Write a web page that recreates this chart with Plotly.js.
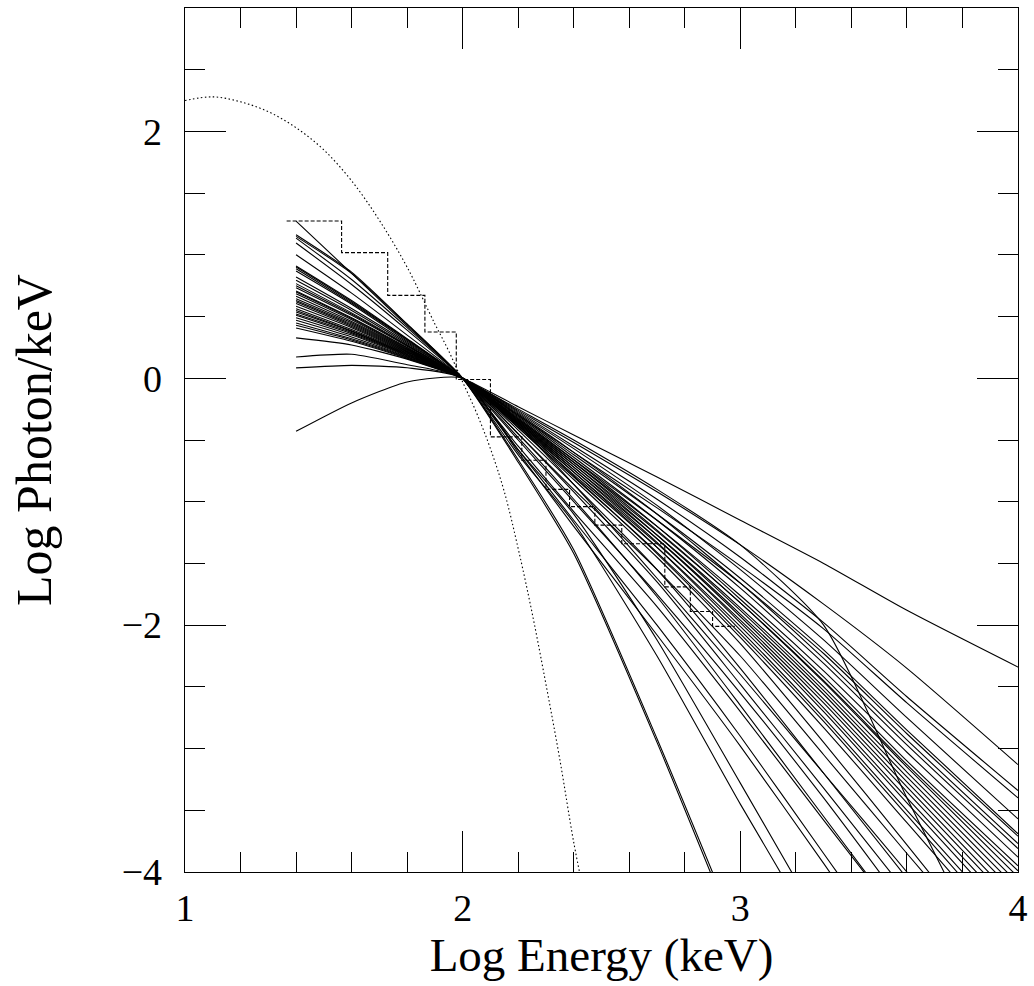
<!DOCTYPE html>
<html>
<head>
<meta charset="utf-8">
<script src="https://cdn.plot.ly/plotly-3.0.1.min.js"></script>
<style>html,body{margin:0;padding:0;background:#fff;}#chart{width:1034px;height:986px;}</style>
</head>
<body>
<div id="chart"></div>
<script>
// Shared Log Energy grid for the model spectra
const logE = [1.4, 1.6, 1.8, 2.0, 2.2, 2.4, 2.7, 3.0, 3.3, 3.6, 4.0];

// Log Photon/keV of each model spectrum on the logE grid (null = off the plot)
const spectra = [
  [1.274, 0.85, 0.425, 0, -0.62, -1.17, -2.25, -3.45, -4.60, null, null],
  [1.163, 0.86, 0.44, 0, -0.68, -1.42, -2.95, -4.60, null, null, null],
  [1.150, 0.85, 0.435, 0, -0.66, -1.39, -2.92, -4.55, null, null, null],
  [1.136, 0.80, 0.41, 0, -0.58, -1.10, -2.12, -3.28, -4.45, null, null],
  [1.096, 0.76, 0.39, 0, -0.55, -1.08, -1.85, -2.70, -3.58, -4.45, null],
  [1.001, 0.69, 0.35, 0, -0.50, -1.00, -1.75, -2.55, -3.40, -4.30, null],
  [0.910, 0.63, 0.32, 0, -0.48, -0.98, -1.77, -2.65, -3.55, -4.45, null],
  [0.901, 0.62, 0.315, 0, -0.42, -0.86, -1.55, -2.35, -3.20, -4.05, null],
  [0.888, 0.61, 0.31, 0, -0.38, -0.79, -1.42, -2.10, -2.83, -3.60, -4.63],
  [0.869, 0.60, 0.30, 0, -0.45, -0.92, -1.65, -2.48, -3.32, -4.17, null],
  [0.820, 0.565, 0.29, 0, -0.39, -0.78, -1.37, -2.01, -2.70, -3.44, -4.42],
  [0.794, 0.55, 0.28, 0, -0.45, -0.90, -1.55, -2.25, -3.05, -3.85, -4.90],
  [0.767, 0.53, 0.27, 0, -0.35, -0.72, -1.30, -1.93, -2.60, -3.31, -4.25],
  [0.750, 0.52, 0.265, 0, -0.32, -0.66, -1.20, -1.79, -2.42, -3.10, -3.95],
  [0.734, 0.51, 0.26, 0, -0.40, -0.82, -1.45, -2.15, -2.95, -3.78, -4.90],
  [0.707, 0.49, 0.25, 0, -0.36, -0.72, -1.27, -1.86, -2.50, -3.19, -4.09],
  [0.700, 0.485, 0.245, 0, -0.29, -0.60, -1.10, -1.66, -2.27, -2.93, -3.77],
  [0.685, 0.475, 0.24, 0, -0.36, -0.74, -1.33, -1.98, -2.67, -3.40, -4.36],
  [0.664, 0.46, 0.235, 0, -0.25, -0.50, -0.90, -1.35, -2.00, -3.40, -5.20],
  [0.645, 0.45, 0.23, 0, -0.40, -0.80, -1.41, -2.07, -2.78, -3.54, -4.56],
  [0.631, 0.44, 0.225, 0, -0.28, -0.57, -1.03, -1.55, -2.12, -2.75, -3.57],
  [0.620, 0.43, 0.22, 0, -0.37, -0.74, -1.30, -1.91, -2.56, -3.27, -4.19],
  [0.605, 0.42, 0.215, 0, -0.34, -0.68, -1.20, -1.76, -2.37, -3.03, -3.88],
  [0.583, 0.41, 0.21, 0, -0.37, -0.76, -1.37, -2.04, -2.75, -3.50, -4.50],
  [0.564, 0.395, 0.205, 0, -0.33, -0.68, -1.23, -1.82, -2.46, -3.15, -4.04],
  [0.550, 0.385, 0.20, 0, -0.33, -0.66, -1.15, -1.66, -2.23, -2.88, -3.71],
  [0.537, 0.38, 0.195, 0, -0.38, -0.76, -1.34, -1.96, -2.63, -3.35, -4.30],
  [0.520, 0.37, 0.19, 0, -0.30, -0.60, -1.05, -1.52, -2.03, -2.63, -3.40],
  [0.510, 0.36, 0.185, 0, -0.34, -0.70, -1.27, -1.88, -2.53, -3.23, -4.14],
  [0.491, 0.35, 0.18, 0, -0.35, -0.70, -1.24, -1.82, -2.45, -3.13, -3.99],
  [0.470, 0.335, 0.175, 0, -0.31, -0.64, -1.15, -1.70, -2.31, -2.97, -3.81],
  [0.448, 0.32, 0.17, 0, -0.30, -0.62, -1.10, -1.62, -2.20, -2.85, -3.69],
  [0.429, 0.31, 0.165, 0, -0.27, -0.55, -0.98, -1.45, -1.98, -2.58, -3.34],
  [0.408, 0.30, 0.16, 0, -0.26, -0.52, -0.92, -1.35, -1.83, -2.35, -3.13],
  [0.327, 0.27, 0.155, 0, -0.23, -0.46, -0.80, -1.15, -1.50, -1.88, -2.34],
  [0.173, 0.195, 0.11, 0, -0.58, -1.15, -2.00, -2.90, -3.85, -4.80, null],
  [0.084, 0.105, 0.085, 0, -0.60, -1.20, -2.08, -2.98, -3.93, -4.90, null],
  [-0.43, -0.20, -0.03, 0, -0.38, -0.86, -1.62, -2.40, -3.20, -4.00, -5.10]
];

// Dashed count histogram: bin edges and levels
const binEdges = [1.366, 1.564, 1.73, 1.864, 1.977, 2.10, 2.213, 2.30, 2.385, 2.476, 2.573, 2.728, 2.82, 2.90, 2.98];
const binLevels = [1.274, 1.018, 0.672, 0.375, -0.01, -0.475, -0.664, -0.90, -1.04, -1.19, -1.34, -1.69, -1.89, -2.01];

// Dotted thermal curve
const bbLogE = [1.0, 1.1, 1.2, 1.3, 1.4, 1.5, 1.6, 1.7, 1.8, 1.9, 1.95, 2.0, 2.05, 2.1, 2.15, 2.2, 2.25, 2.3, 2.35, 2.4, 2.43];
const bbLogN = [2.25, 2.28, 2.24, 2.16, 2.03, 1.85, 1.60, 1.28, 0.90, 0.44, 0.22, -0.03, -0.28, -0.57, -0.92, -1.38, -1.90, -2.48, -3.09, -3.76, -4.10];

const xTickVals = [1, 2, 3, 4];
const yTickVals = [-4, -2, 0, 2];

const FONT = 'Liberation Serif, Times New Roman, serif';

const traces = spectra.map(row => ({
  x: logE, y: row, type: 'scatter', mode: 'lines',
  line: {color: '#000', width: 1.1, shape: 'spline', smoothing: 0.6},
  hoverinfo: 'skip', showlegend: false
}));

traces.push({
  x: binEdges, y: binLevels.concat([binLevels[binLevels.length - 1]]),
  type: 'scatter', mode: 'lines',
  line: {color: '#000', width: 1.1, shape: 'hv', dash: '4px,2px'},
  hoverinfo: 'skip', showlegend: false
});

traces.push({
  x: bbLogE, y: bbLogN, type: 'scatter', mode: 'lines',
  line: {color: '#000', width: 1.1, shape: 'spline', dash: '1.5px,2.5px'},
  hoverinfo: 'skip', showlegend: false
});

const axisCommon = {
  showline: true, mirror: 'allticks', linecolor: '#000', linewidth: 1.3,
  ticks: 'inside', ticklen: 41, tickwidth: 1, tickcolor: '#000',
  showgrid: false, zeroline: false,
  tickfont: {family: FONT, size: 38, color: '#000'},
  automargin: false
};

const layout = {
  width: 1034, height: 986,
  margin: {l: 185, r: 16, t: 8, b: 114},
  paper_bgcolor: '#fff', plot_bgcolor: '#fff',
  showlegend: false,
  xaxis: Object.assign({}, axisCommon, {
    range: [1, 4], tickmode: 'array', tickvals: xTickVals, ticktext: xTickVals.map(String),
    minor: {dtick: 0.2, tick0: 1, ticks: 'inside', ticklen: 20, tickwidth: 1, tickcolor: '#000', showgrid: false},
    ticklabelstandoff: 2,
    title: {text: 'Log Energy (keV)', font: {family: FONT, size: 47, color: '#000'}, standoff: 4}
  }),
  yaxis: Object.assign({}, axisCommon, {
    range: [-4, 3], tickmode: 'array', tickvals: yTickVals, ticktext: yTickVals.map(v => v < 0 ? '\u2212' + Math.abs(v) : String(v)),
    minor: {dtick: 0.5, tick0: 0, ticks: 'inside', ticklen: 20, tickwidth: 1, tickcolor: '#000', showgrid: false},
    ticklabelstandoff: 14,
    title: {text: 'Log Photon/keV', font: {family: FONT, size: 50, color: '#000'}, standoff: 54}
  })
};

Plotly.newPlot('chart', traces, layout, {displayModeBar: false, staticPlot: true});
</script>
</body>
</html>
